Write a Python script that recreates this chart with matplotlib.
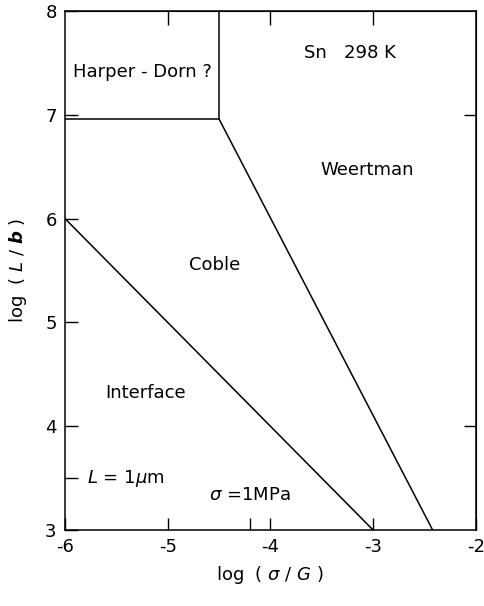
import matplotlib
matplotlib.use('Agg')
import matplotlib.pyplot as plt
from matplotlib.ticker import FixedLocator

plt.rcParams['font.family'] = ['DejaVu Sans']
plt.rcParams['axes.unicode_minus'] = False
plt.rcParams['mathtext.fontset'] = 'custom'
plt.rcParams['mathtext.rm'] = 'DejaVu Sans'
plt.rcParams['mathtext.it'] = 'DejaVu Sans:italic'
plt.rcParams['mathtext.bf'] = 'DejaVu Sans:italic:bold'

# mechanism field boundaries, log(sigma/G) vs log(L/b)
hd_bottom_x = [-6.0, -4.5]
hd_bottom_y = [6.96, 6.96]
hd_right_x = [-4.5, -4.5]
hd_right_y = [6.96, 8.0]
weertman_x = [-4.5, -2.42]
weertman_y = [6.96, 3.0]
interface_x = [-6.0, -3.0]
interface_y = [6.0, 3.0]

x_ticks = [-6, -5, -4, -3, -2]
y_ticks = [3, 4, 5, 6, 7, 8]
top_ticks = [-5, -4, -3]
right_ticks = [4, 7]
L_1um = 3.5        # log(L/b) for L = 1 um
sigma_1MPa = -4.2  # log(sigma/G) for 1 MPa

fig = plt.figure(figsize=(4.85, 6.06), dpi=100)
ax = fig.add_axes([0.134, 0.1254, 0.847, 0.8564])

for xs, ys in [(hd_bottom_x, hd_bottom_y), (hd_right_x, hd_right_y),
               (weertman_x, weertman_y), (interface_x, interface_y)]:
    ax.plot(xs, ys, color='black', lw=1.1, solid_capstyle='butt')

ax.set_xlim(-6, -2)
ax.set_ylim(3, 8)
ax.set_xticks(x_ticks)
ax.set_yticks(y_ticks)
ax.xaxis.set_minor_locator(FixedLocator([sigma_1MPa]))
ax.yaxis.set_minor_locator(FixedLocator([L_1um]))
ax.tick_params(which='both', direction='in', length=9, width=1.0,
               labelsize=13, pad=6, top=False, right=False)
for s in ax.spines.values():
    s.set_linewidth(1.1)

sec_top = ax.secondary_xaxis('top')
sec_top.set_xticks(top_ticks)
sec_top.tick_params(direction='in', length=10, width=1.0, labeltop=False)
sec_right = ax.secondary_yaxis('right')
sec_right.set_yticks(right_ticks)
sec_right.tick_params(direction='in', length=9, width=1.0, labelright=False)

fs = 13
ax.text(-5.25, 7.41, "Harper - Dorn ?", ha='center', va='center', fontsize=fs)
ax.text(-3.23, 7.6, "Sn   298 K", ha='center', va='center', fontsize=fs)
ax.text(-3.06, 6.47, "Weertman", ha='center', va='center', fontsize=fs)
ax.text(-4.54, 5.55, "Coble", ha='center', va='center', fontsize=fs)
ax.text(-5.22, 4.32, "Interface", ha='center', va='center', fontsize=fs)
ax.text(-5.79, L_1um, r"$L$ = 1$\mu$m", ha='left', va='center', fontsize=fs)
ax.text(sigma_1MPa, 3.34, r"$\sigma$ =1MPa", ha='center', va='center', fontsize=fs)

fig.text(0.557, 0.051, r"log  ( $\sigma$ / $G$ )", ha='center', va='center', fontsize=fs)
fig.text(0.037, 0.553, r"log  ( $L$ / $\mathbf{b}$ )", ha='center', va='center',
         rotation=90, fontsize=fs)

fig.savefig('out.png', dpi=100)
